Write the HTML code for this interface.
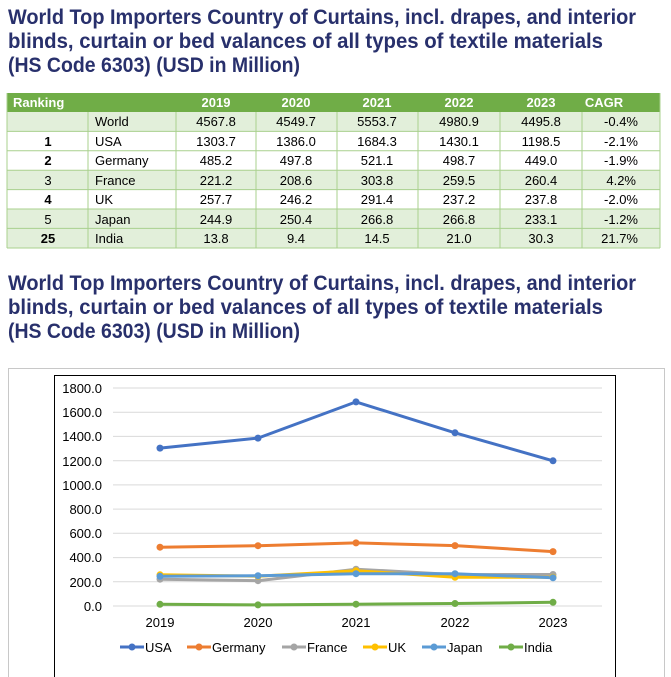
<!DOCTYPE html>
<html><head><meta charset="utf-8"><style>
html,body{margin:0;padding:0;background:#fff;}
svg{display:block;}
</style></head><body>
<svg width="671" height="677" viewBox="0 0 671 677" xmlns="http://www.w3.org/2000/svg" font-family="Liberation Sans, sans-serif">
<g fill="#28306c" font-weight="bold" font-size="21">
<text x="8" y="24" textLength="628" lengthAdjust="spacingAndGlyphs">World Top Importers Country of Curtains, incl. drapes, and interior</text>
<text x="8" y="48" textLength="595" lengthAdjust="spacingAndGlyphs">blinds, curtain or bed valances of all types of textile materials</text>
<text x="8" y="72" textLength="292" lengthAdjust="spacingAndGlyphs">(HS Code 6303) (USD in Million)</text>
<text x="8" y="290" textLength="628" lengthAdjust="spacingAndGlyphs">World Top Importers Country of Curtains, incl. drapes, and interior</text>
<text x="8" y="314" textLength="595" lengthAdjust="spacingAndGlyphs">blinds, curtain or bed valances of all types of textile materials</text>
<text x="8" y="338" textLength="292" lengthAdjust="spacingAndGlyphs">(HS Code 6303) (USD in Million)</text>
</g>
<!-- table -->
<rect x="7" y="93" width="653" height="19" fill="#70ad47"/>
<g fill="#e2efda">
<rect x="7" y="112" width="653" height="19.4"/>
<rect x="7" y="170.2" width="653" height="19.4"/>
<rect x="7" y="209" width="653" height="19.4"/>
<rect x="7" y="228.4" width="653" height="19.6"/>
</g>
<g stroke="#a9d08e" stroke-width="1">
<line x1="7" y1="131.4" x2="660" y2="131.4"/><line x1="7" y1="150.8" x2="660" y2="150.8"/>
<line x1="7" y1="170.2" x2="660" y2="170.2"/><line x1="7" y1="189.6" x2="660" y2="189.6"/>
<line x1="7" y1="209" x2="660" y2="209"/><line x1="7" y1="228.4" x2="660" y2="228.4"/>
<line x1="7" y1="248" x2="660" y2="248"/>
<line x1="7" y1="93" x2="7" y2="248"/><line x1="660" y1="93" x2="660" y2="248"/>
<line x1="88" y1="112" x2="88" y2="248"/><line x1="176" y1="112" x2="176" y2="248"/>
<line x1="256" y1="112" x2="256" y2="248"/><line x1="337" y1="112" x2="337" y2="248"/>
<line x1="418" y1="112" x2="418" y2="248"/><line x1="500" y1="112" x2="500" y2="248"/>
<line x1="582" y1="112" x2="582" y2="248"/>
</g>
<g font-size="13" fill="#fff" font-weight="bold">
<text x="13" y="107">Ranking</text>
<g text-anchor="middle"><text x="216" y="107">2019</text><text x="296" y="107">2020</text><text x="377" y="107">2021</text><text x="459" y="107">2022</text><text x="541" y="107">2023</text><text x="604" y="107">CAGR</text></g>
</g>
<g font-size="13" fill="#000">
<g text-anchor="middle" font-weight="bold">
<text x="48" y="146">1</text><text x="48" y="165">2</text><text x="48" y="185" font-weight="normal">3</text><text x="48" y="204">4</text><text x="48" y="224" font-weight="normal">5</text><text x="48" y="243">25</text>
</g>
<text x="95" y="126">World</text><text x="95" y="146">USA</text><text x="95" y="165">Germany</text><text x="95" y="185">France</text><text x="95" y="204">UK</text><text x="95" y="224">Japan</text><text x="95" y="243">India</text>
<g text-anchor="middle">
<text x="216" y="126">4567.8</text><text x="296" y="126">4549.7</text><text x="377" y="126">5553.7</text><text x="459" y="126">4980.9</text><text x="541" y="126">4495.8</text>
<text x="216" y="146">1303.7</text><text x="296" y="146">1386.0</text><text x="377" y="146">1684.3</text><text x="459" y="146">1430.1</text><text x="541" y="146">1198.5</text>
<text x="216" y="165">485.2</text><text x="296" y="165">497.8</text><text x="377" y="165">521.1</text><text x="459" y="165">498.7</text><text x="541" y="165">449.0</text>
<text x="216" y="185">221.2</text><text x="296" y="185">208.6</text><text x="377" y="185">303.8</text><text x="459" y="185">259.5</text><text x="541" y="185">260.4</text>
<text x="216" y="204">257.7</text><text x="296" y="204">246.2</text><text x="377" y="204">291.4</text><text x="459" y="204">237.2</text><text x="541" y="204">237.8</text>
<text x="216" y="224">244.9</text><text x="296" y="224">250.4</text><text x="377" y="224">266.8</text><text x="459" y="224">266.8</text><text x="541" y="224">233.1</text>
<text x="216" y="243">13.8</text><text x="296" y="243">9.4</text><text x="377" y="243">14.5</text><text x="459" y="243">21.0</text><text x="541" y="243">30.3</text>
</g>
<g text-anchor="end">
<text x="638" y="126">-0.4%</text><text x="638" y="146">-2.1%</text><text x="638" y="165">-1.9%</text><text x="636" y="185">4.2%</text><text x="638" y="204">-2.0%</text><text x="638" y="224">-1.2%</text><text x="638" y="243">21.7%</text>
</g>
</g>
<!-- chart -->
<rect x="8.5" y="368.5" width="656" height="310" fill="none" stroke="#c8c8c8"/>
<rect x="54.5" y="375.5" width="561" height="310" fill="none" stroke="#000"/>
<g stroke="#d9d9d9" stroke-width="1">
<line x1="113" y1="388" x2="602" y2="388"/><line x1="113" y1="412.2" x2="602" y2="412.2"/><line x1="113" y1="436.4" x2="602" y2="436.4"/>
<line x1="113" y1="460.7" x2="602" y2="460.7"/><line x1="113" y1="484.9" x2="602" y2="484.9"/><line x1="113" y1="509.1" x2="602" y2="509.1"/>
<line x1="113" y1="533.3" x2="602" y2="533.3"/><line x1="113" y1="557.6" x2="602" y2="557.6"/><line x1="113" y1="581.8" x2="602" y2="581.8"/>
<line x1="113" y1="606" x2="602" y2="606"/>
</g>
<g font-size="13" fill="#000" text-anchor="end">
<text x="102" y="393">1800.0</text><text x="102" y="417">1600.0</text><text x="102" y="441">1400.0</text><text x="102" y="466">1200.0</text><text x="102" y="490">1000.0</text>
<text x="102" y="514">800.0</text><text x="102" y="538">600.0</text><text x="102" y="562">400.0</text><text x="102" y="587">200.0</text><text x="102" y="611">0.0</text>
</g>
<g font-size="13" fill="#000" text-anchor="middle">
<text x="160" y="627">2019</text><text x="258" y="627">2020</text><text x="356" y="627">2021</text><text x="455" y="627">2022</text><text x="553" y="627">2023</text>
</g>
<g fill="none" stroke-width="3" stroke-linejoin="round">
<polyline stroke="#a5a5a5" points="160,579.2 258,580.7 356,569.2 455,574.6 553,574.5"/>
<polyline stroke="#ffc000" points="160,574.8 258,576.2 356,570.7 455,577.3 553,577.2"/>
<polyline stroke="#5b9bd5" points="160,576.3 258,575.7 356,573.7 455,573.7 553,577.8"/>
<polyline stroke="#70ad47" points="160,604.3 258,604.9 356,604.2 455,603.5 553,602.3"/>
<polyline stroke="#ed7d31" points="160,547.2 258,545.7 356,542.9 455,545.6 553,551.6"/>
<polyline stroke="#4472c4" points="160,448.1 258,438.1 356,401.9 455,432.8 553,460.8"/>
</g>
<g>
<g fill="#a5a5a5"><circle cx="160" cy="579.2" r="3.5"/><circle cx="258" cy="580.7" r="3.5"/><circle cx="356" cy="569.2" r="3.5"/><circle cx="455" cy="574.6" r="3.5"/><circle cx="553" cy="574.5" r="3.5"/></g>
<g fill="#ffc000"><circle cx="160" cy="574.8" r="3.5"/><circle cx="258" cy="576.2" r="3.5"/><circle cx="356" cy="570.7" r="3.5"/><circle cx="455" cy="577.3" r="3.5"/><circle cx="553" cy="577.2" r="3.5"/></g>
<g fill="#5b9bd5"><circle cx="160" cy="576.3" r="3.5"/><circle cx="258" cy="575.7" r="3.5"/><circle cx="356" cy="573.7" r="3.5"/><circle cx="455" cy="573.7" r="3.5"/><circle cx="553" cy="577.8" r="3.5"/></g>
<g fill="#70ad47"><circle cx="160" cy="604.3" r="3.5"/><circle cx="258" cy="604.9" r="3.5"/><circle cx="356" cy="604.2" r="3.5"/><circle cx="455" cy="603.5" r="3.5"/><circle cx="553" cy="602.3" r="3.5"/></g>
<g fill="#ed7d31"><circle cx="160" cy="547.2" r="3.5"/><circle cx="258" cy="545.7" r="3.5"/><circle cx="356" cy="542.9" r="3.5"/><circle cx="455" cy="545.6" r="3.5"/><circle cx="553" cy="551.6" r="3.5"/></g>
<g fill="#4472c4"><circle cx="160" cy="448.1" r="3.5"/><circle cx="258" cy="438.1" r="3.5"/><circle cx="356" cy="401.9" r="3.5"/><circle cx="455" cy="432.8" r="3.5"/><circle cx="553" cy="460.8" r="3.5"/></g>
</g>
<!-- legend -->
<g stroke-width="3" font-size="13">
<line x1="120" y1="647" x2="144" y2="647" stroke="#4472c4"/><circle cx="132" cy="647" r="3.5" fill="#4472c4"/>
<line x1="187" y1="647" x2="211" y2="647" stroke="#ed7d31"/><circle cx="199" cy="647" r="3.5" fill="#ed7d31"/>
<line x1="282" y1="647" x2="306" y2="647" stroke="#a5a5a5"/><circle cx="294" cy="647" r="3.5" fill="#a5a5a5"/>
<line x1="363" y1="647" x2="387" y2="647" stroke="#ffc000"/><circle cx="375" cy="647" r="3.5" fill="#ffc000"/>
<line x1="422" y1="647" x2="446" y2="647" stroke="#5b9bd5"/><circle cx="434" cy="647" r="3.5" fill="#5b9bd5"/>
<line x1="499" y1="647" x2="523" y2="647" stroke="#70ad47"/><circle cx="511" cy="647" r="3.5" fill="#70ad47"/>
<g stroke="none" fill="#000">
<text x="145" y="652">USA</text><text x="212" y="652">Germany</text><text x="307" y="652">France</text><text x="388" y="652">UK</text><text x="447" y="652">Japan</text><text x="524" y="652">India</text>
</g>
</g>
</svg>
</body></html>
